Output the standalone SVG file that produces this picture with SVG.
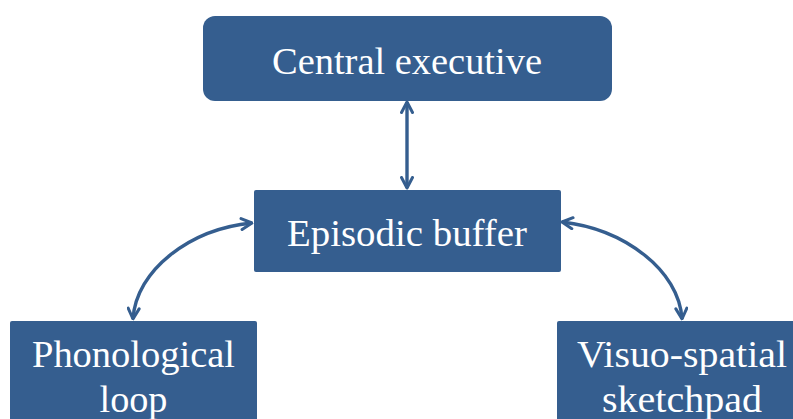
<svg xmlns="http://www.w3.org/2000/svg" width="793" height="419" viewBox="0 0 793 419">
  <defs>
    <style>
      .box { fill: #355E8F; }
      .lbl { fill: #FFFFFF; font-family: "Liberation Serif", "DejaVu Serif", serif; font-size: 38px; text-anchor: middle; }
      .link { fill: none; stroke: #355E8F; stroke-width: 3.4; marker-start: url(#head); marker-end: url(#head); }
    </style>
    <marker id="head" viewBox="0 0 14 14" refX="12.5" refY="7" markerWidth="14" markerHeight="14" markerUnits="userSpaceOnUse" orient="auto-start-reverse">
      <path d="M2,1.5 L12.5,7 L2,12.5" fill="none" stroke="#355E8F" stroke-width="3" stroke-linecap="round" stroke-linejoin="round"/>
    </marker>
  </defs>
  <rect width="793" height="419" fill="#FFFFFF"/>

  <g id="connectors">
    <path class="link" d="M407,102 L407,188"/>
    <path class="link" d="M252,223 C190,229 136,270 133,319"/>
    <path class="link" d="M562,222 C624,229 679,270 682,319"/>
  </g>

  <g id="central-executive">
    <rect class="box" x="203" y="16" width="409" height="85" rx="12" ry="12"/>
    <text class="lbl" x="407" y="74" textLength="270" lengthAdjust="spacingAndGlyphs">Central executive</text>
  </g>

  <g id="episodic-buffer">
    <rect class="box" x="254" y="190" width="307" height="82" rx="2" ry="2"/>
    <text class="lbl" x="407" y="246" textLength="240" lengthAdjust="spacingAndGlyphs">Episodic buffer</text>
  </g>

  <g id="phonological-loop">
    <rect class="box" x="10" y="321" width="247" height="110" rx="2" ry="2"/>
    <text class="lbl" x="133.5" y="367" font-size="40" textLength="203" lengthAdjust="spacingAndGlyphs">Phonological</text>
    <text class="lbl" x="133.5" y="412" font-size="40" textLength="68" lengthAdjust="spacingAndGlyphs">loop</text>
  </g>

  <g id="visuo-spatial-sketchpad">
    <rect class="box" x="557" y="321" width="250" height="110" rx="2" ry="2"/>
    <text class="lbl" x="682" y="367" font-size="40" textLength="210" lengthAdjust="spacingAndGlyphs">Visuo-spatial</text>
    <text class="lbl" x="682" y="412" font-size="40" textLength="160" lengthAdjust="spacingAndGlyphs">sketchpad</text>
  </g>
</svg>
